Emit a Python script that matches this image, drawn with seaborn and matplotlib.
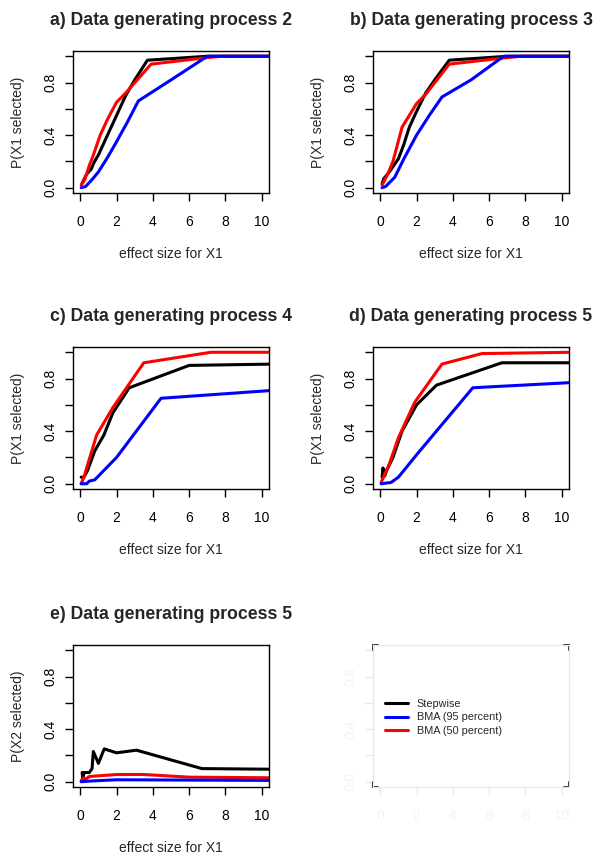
import numpy as np
import pandas as pd
import matplotlib
matplotlib.use("Agg")
import matplotlib.pyplot as plt
import seaborn as sns
from matplotlib.lines import Line2D

sns.set_theme(style="white")
plt.rcParams['font.family'] = ['Liberation Sans', 'DejaVu Sans']

titles = ["a) Data generating process 2", "b) Data generating process 3",
          "c) Data generating process 4", "d) Data generating process 5",
          "e) Data generating process 5"]
ylabels = ["P(X1 selected)"] * 4 + ["P(X2 selected)"]
xlabel = "effect size for X1"
method_names = ["Stepwise", "BMA (95 percent)", "BMA (50 percent)"]
method_colors = ["#000000", "#0000FF", "#FF0000"]

# Panel a
a_step_x = [0.09, 0.2, 0.3, 0.45, 0.6, 0.75, 1.0, 1.5, 2.0, 2.5, 3.0, 3.7, 7.0, 10.6]
a_step_y = [0.03, 0.06, 0.09, 0.12, 0.14, 0.19, 0.25, 0.40, 0.55, 0.70, 0.82, 0.97, 1.00, 1.00]
a_b95_x = [0.05, 0.3, 0.7, 1.0, 1.5, 2.0, 2.6, 3.2, 5.0, 7.0, 10.6]
a_b95_y = [0.00, 0.01, 0.07, 0.12, 0.23, 0.35, 0.50, 0.66, 0.82, 1.00, 1.00]
a_b50_x = [0.05, 0.25, 0.5, 0.7, 1.1, 1.5, 2.0, 2.5, 3.9, 7.0, 7.8, 10.6]
a_b50_y = [0.02, 0.06, 0.17, 0.24, 0.40, 0.52, 0.65, 0.72, 0.94, 0.99, 1.00, 1.00]

# Panel b
b_step_x = [0.1, 0.2, 0.5, 1.0, 1.3, 1.6, 2.0, 2.5, 3.0, 3.8, 7.0, 10.6]
b_step_y = [0.03, 0.07, 0.12, 0.22, 0.33, 0.46, 0.58, 0.72, 0.82, 0.97, 1.00, 1.00]
b_b95_x = [0.1, 0.3, 0.8, 1.3, 2.0, 2.7, 3.4, 5.0, 6.8, 10.6]
b_b95_y = [0.00, 0.01, 0.08, 0.22, 0.40, 0.55, 0.69, 0.82, 1.00, 1.00]
b_b50_x = [0.1, 0.4, 0.7, 1.2, 1.6, 2.0, 2.5, 3.8, 7.0, 7.8, 10.6]
b_b50_y = [0.02, 0.10, 0.20, 0.46, 0.55, 0.64, 0.71, 0.94, 0.99, 1.00, 1.00]

# Panel c
c_step_x = [0.05, 0.2, 0.4, 0.8, 1.3, 1.8, 2.7, 6.0, 10.6]
c_step_y = [0.05, 0.05, 0.10, 0.25, 0.37, 0.54, 0.73, 0.90, 0.91]
c_b95_x = [0.05, 0.35, 0.5, 0.8, 2.0, 4.45, 10.6]
c_b95_y = [0.00, 0.00, 0.02, 0.03, 0.20, 0.65, 0.71]
c_b50_x = [0.05, 0.2, 0.9, 1.8, 3.5, 7.2, 10.6]
c_b50_y = [0.00, 0.05, 0.37, 0.58, 0.92, 1.00, 1.00]

# Panel d
d_step_x = [0.1, 0.15, 0.25, 0.35, 0.7, 1.2, 2.0, 3.1, 6.7, 10.6]
d_step_y = [0.05, 0.12, 0.06, 0.10, 0.20, 0.40, 0.60, 0.75, 0.92, 0.92]
d_b95_x = [0.05, 0.6, 1.0, 2.0, 5.1, 10.6]
d_b95_y = [0.00, 0.01, 0.05, 0.22, 0.73, 0.77]
d_b50_x = [0.05, 0.5, 1.0, 1.9, 3.4, 5.6, 10.6]
d_b50_y = [0.01, 0.15, 0.35, 0.62, 0.91, 0.99, 1.00]

# Panel e (X2 selected)
e_step_x = [0.1, 0.15, 0.2, 0.5, 0.65, 0.72, 1.0, 1.32, 2.0, 3.1, 6.7, 10.6]
e_step_y = [0.07, 0.02, 0.07, 0.07, 0.10, 0.23, 0.14, 0.25, 0.22, 0.24, 0.10, 0.095]
e_b95_x = [0.05, 0.5, 2.0, 10.6]
e_b95_y = [0.00, 0.005, 0.015, 0.01]
e_b50_x = [0.05, 0.2, 0.3, 0.5, 1.0, 2.0, 3.5, 6.0, 10.6]
e_b50_y = [0.01, 0.03, 0.02, 0.04, 0.045, 0.055, 0.055, 0.035, 0.03]

panels = [
    [(a_step_x, a_step_y), (a_b95_x, a_b95_y), (a_b50_x, a_b50_y)],
    [(b_step_x, b_step_y), (b_b95_x, b_b95_y), (b_b50_x, b_b50_y)],
    [(c_step_x, c_step_y), (c_b95_x, c_b95_y), (c_b50_x, c_b50_y)],
    [(d_step_x, d_step_y), (d_b95_x, d_b95_y), (d_b50_x, d_b50_y)],
    [(e_step_x, e_step_y), (e_b95_x, e_b95_y), (e_b50_x, e_b50_y)],
]
draw_order = [0, 2, 1]

xticks = [0, 2, 4, 6, 8, 10]
yticks = [0.0, 0.2, 0.4, 0.6, 0.8, 1.0]
ytick_labels = ["0.0", "", "0.4", "", "0.8", ""]

W, H = 600, 863
fig = plt.figure(figsize=(6, 8.63), dpi=100)

lefts = [73, 373]
tops = [51, 347, 645]
aw, ah = 196, 142

def make_ax(col, row):
    l = lefts[col] / W
    b = 1 - (tops[row] + ah) / H
    return fig.add_axes([l, b, aw / W, ah / H])

def style_ax(ax, color="black", label_color="black"):
    ax.set_xlim(-0.4, 10.4)
    ax.set_ylim(-0.04, 1.04)
    ax.set_xticks(xticks)
    ax.set_xticklabels([str(t) for t in xticks])
    ax.set_yticks(yticks)
    ax.set_yticklabels(ytick_labels)
    for s in ax.spines.values():
        s.set_visible(True)
        s.set_color(color)
        s.set_linewidth(1.0)
    ax.tick_params(axis='both', which='major', direction='out', length=6,
                   width=1.0, color=color, labelsize=10, labelcolor=label_color,
                   bottom=True, left=True)
    ax.tick_params(axis='x', pad=10)
    ax.tick_params(axis='y', pad=5.5, labelrotation=90)
    for lab in ax.get_yticklabels():
        lab.set_va('center')
        lab.set_ha('right')
    ax.grid(False)
    ax.set_facecolor("white")

for i in range(5):
    col, row = i % 2, i // 2
    ax = make_ax(col, row)
    for m in draw_order:
        x, y = panels[i][m]
        df = pd.DataFrame({"x": x, "y": y})
        sns.lineplot(data=df, x="x", y="y", ax=ax, color=method_colors[m],
                     linewidth=2.2, estimator=None, sort=False)
    style_ax(ax)
    ax.set_title(titles[i], fontsize=12.7, fontweight='bold', pad=19)
    ax.set_xlabel(xlabel, fontsize=10, labelpad=13)
    ax.set_ylabel(ylabels[i], fontsize=10, labelpad=13)

# Ghost panel with legend
axf = make_ax(1, 2)
style_ax(axf, color="#e8e8e8", label_color="#f3f3f3")
L = 0.025
for (cx, cy, dx, dy) in [(0, 0, 1, 1), (1, 0, -1, 1), (0, 1, 1, -1), (1, 1, -1, -1)]:
    axf.plot([cx + dx * L, cx, cx], [cy, cy, cy + dy * L * aw / ah],
             transform=axf.transAxes, color="black", lw=1.3, clip_on=False,
             solid_joinstyle='miter')
handles = [Line2D([0], [0], color=c, lw=2.2) for c in method_colors]
axf.legend(handles, method_names, loc='center left', bbox_to_anchor=(0.061, 0.49),
           frameon=False, fontsize=7.8, handlelength=2.1, handletextpad=0.85,
           labelspacing=0.35, borderpad=0, borderaxespad=0)

fig.savefig("out.png", dpi=100, facecolor="white")
